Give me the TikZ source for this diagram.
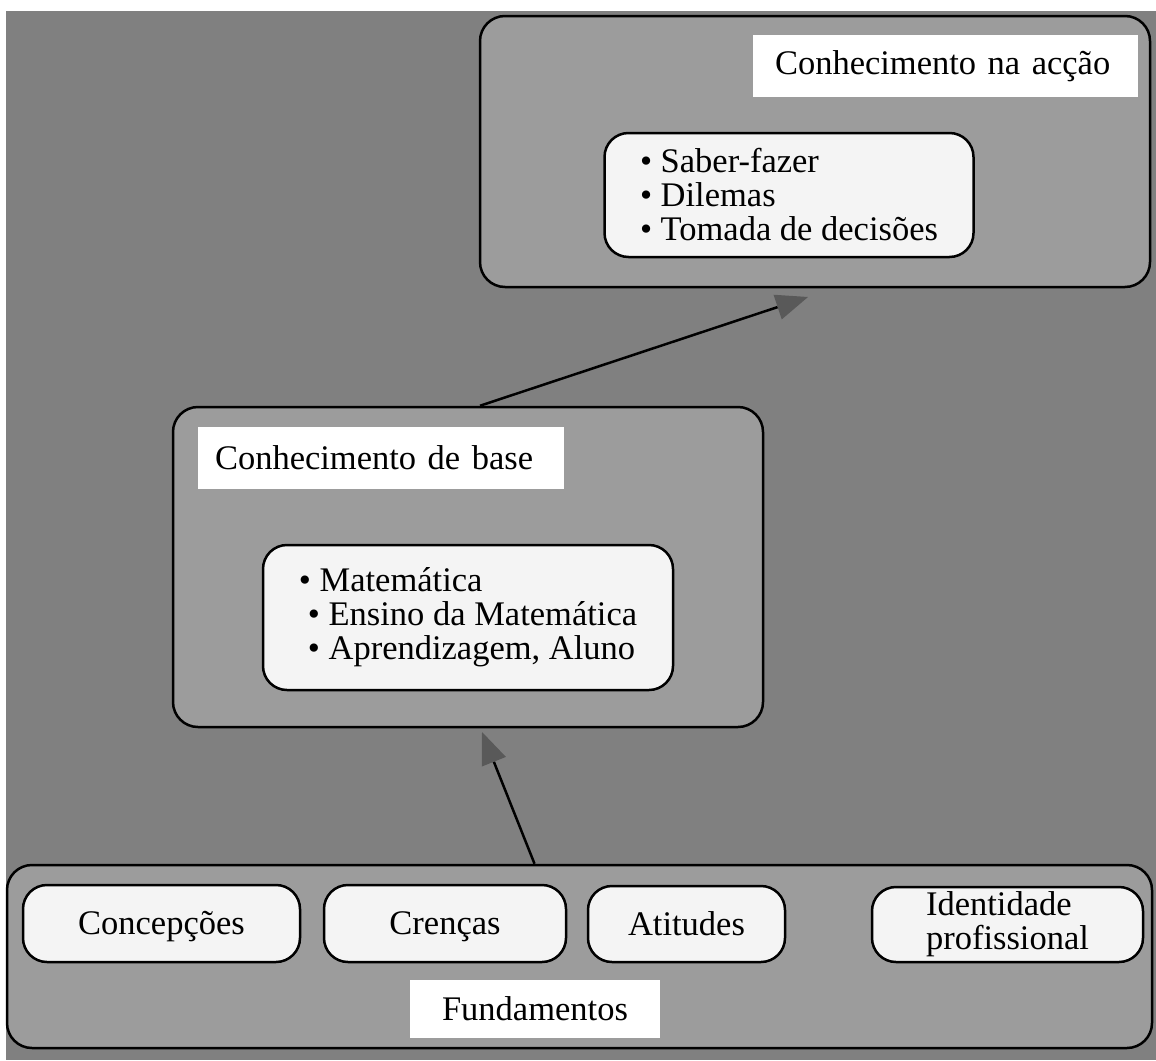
\documentclass[tikz,border=0pt]{standalone}
\usepackage{fontspec}
\setmainfont{Liberation Serif}
\usepackage{tikz}
\usetikzlibrary{arrows.meta,positioning}
\definecolor{bggray}{HTML}{808080}
\definecolor{stagegray}{HTML}{9C9C9C}
\definecolor{itemwhite}{HTML}{F4F4F4}
\definecolor{tipgray}{HTML}{595959}
\newcommand\txtsize{\fontsize{34.5}{34}\selectfont}
\tikzset{stage/.style={rectangle, rounded corners=25pt, draw=black, line width=2.5pt, fill=stagegray, inner sep=0pt}}
\tikzset{itembox/.style={rectangle, rounded corners=24pt, draw=black, line width=2.5pt, fill=itemwhite, inner sep=0pt, align=left, font=\txtsize}}
\tikzset{oneline/.style={text height=28pt, text depth=6pt}}
\tikzset{tag/.style={rectangle, fill=white, inner ysep=0pt, minimum height=62pt, align=left, font=\txtsize}}
\tikzset{arrow/.style={line width=2.5pt, -{Triangle[length=32pt,width=26pt,color=tipgray,line width=0pt]}}}

\begin{document}
\begin{tikzpicture}[x=1pt,y=-1pt]
\useasboundingbox (0,0) rectangle (1156,1060);
\fill[bggray] (6,11) rectangle (1156,1060);
% Conhecimento na accao
\node[stage, minimum width=670pt, minimum height=271pt] (accao) at (815,151.5) {};
\node[tag, inner xsep=22pt, text width=341pt] (accaotag) at (945.5,66) {Conhecimento na acção};
\node[itembox, minimum width=369pt, minimum height=124pt] (accaoitems) at (789,195)
  {• Saber-fazer\\• Dilemas\\• Tomada de decisões};
% Conhecimento de base
\node[stage, minimum width=590pt, minimum height=320pt] (base) at (468,567) {};
\node[tag, inner xsep=17pt, text width=332pt] (basetag) at (381,458) {Conhecimento de base};
\node[itembox, minimum width=410pt, minimum height=145pt] (baseitems) at (468,617.5)
  {• Matemática\\\hspace*{9pt}• Ensino da Matemática\\\hspace*{9pt}• Aprendizagem, Aluno};
% Fundamentos
\node[stage, minimum width=1145pt, minimum height=183pt] (fund) at (579.5,956.5) {};
\node[itembox, oneline, minimum width=277pt, minimum height=77pt] (concep) at (161.5,923.5) {Concepções};
\node[itembox, oneline, minimum width=242pt, minimum height=77pt] (crencas) at (445,923.5) {Crenças};
\node[itembox, oneline, minimum width=197pt, minimum height=76pt] (atitudes) at (686.5,924) {Atitudes};
\node[itembox, minimum width=271pt, minimum height=75pt] (identidade) at (1007.5,924.5) {Identidade\\profissional};
\node[tag, oneline, minimum width=250pt, minimum height=58pt, align=center] (fundtag) at (535,1009) {Fundamentos};
% setas
\coordinate (tipaccao) at (808,297);
\coordinate (tipbase) at (482,732);
\draw[arrow] ([xshift=12pt]base.north) -- (tipaccao);
\draw[arrow] ([xshift=-45pt]fund.north) -- (tipbase);
\end{tikzpicture}
\end{document}
